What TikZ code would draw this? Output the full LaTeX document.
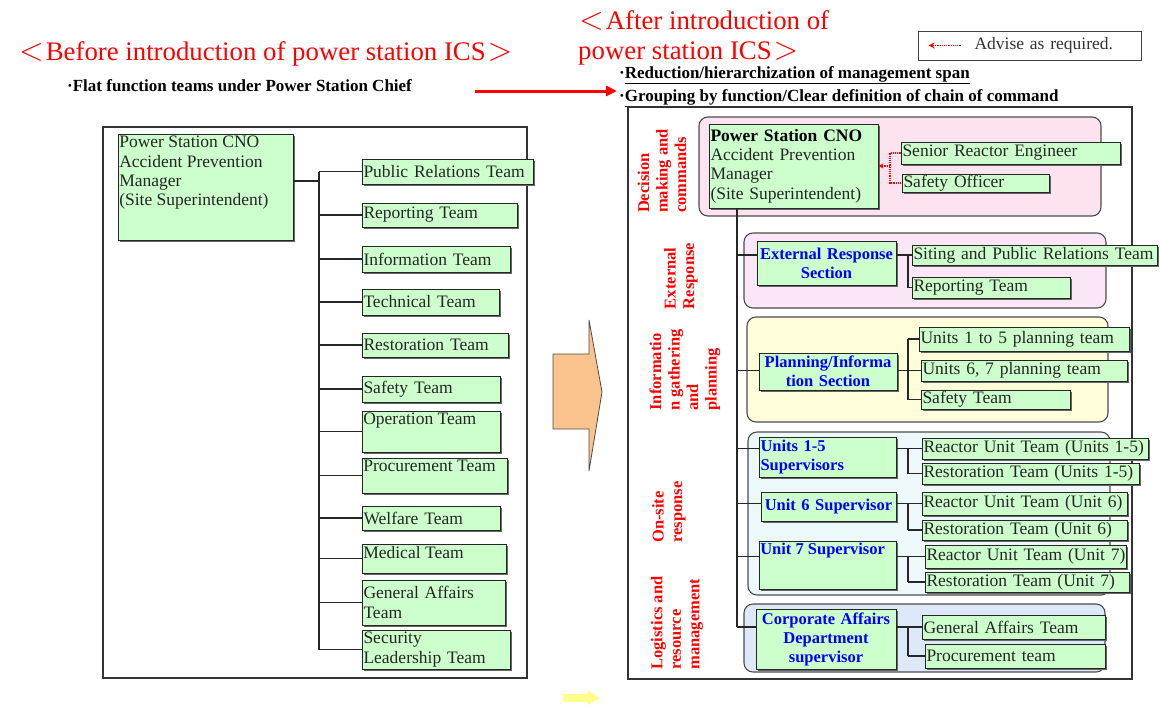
\documentclass[tikz,border=0pt]{standalone}
\usepackage{graphicx}
\usepackage{fontspec}
\setmainfont{Liberation Serif}
\usetikzlibrary{shadows,calc,arrows.meta}

\definecolor{boxgreen}{HTML}{CCFFCC}
\definecolor{ICSblue}{HTML}{0000FF}
\definecolor{grpDecision}{HTML}{FDE2EF}
\definecolor{grpExternal}{HTML}{FBE6F7}
\definecolor{grpPlanning}{HTML}{FFFDDA}
\definecolor{grpOnsite}{HTML}{EDF8FB}
\definecolor{grpLogistics}{HTML}{DDE9F8}
\definecolor{arrowOrange}{HTML}{FAC38E}
\definecolor{arrowYellow}{HTML}{FFFF8C}

\newcommand{\boxfont}{\fontsize{17.5}{19.3}\selectfont}
\newcommand{\sectfont}{\bfseries\fontsize{16.5}{19}\selectfont}
\newcommand{\sidefont}{\bfseries\fontsize{16.5}{18.5}\selectfont}
\newcommand{\titlefont}{\fontsize{26.8}{30}\selectfont}
\newcommand{\notefont}{\bfseries\fontsize{17}{20}\selectfont}
% wide angle brackets round the headings
\newcommand{\lbrk}{\kern1pt\scalebox{1.3}{\ensuremath{<}}\kern2pt}
\newcommand{\rbrk}{\kern2pt\scalebox{1.3}{\ensuremath{>}}}

% green box with text centred vertically: [opts]{name}{x1}{y1}{x2}{y2}{text}
\newcommand{\gbc}[7][]{%
  \pgfmathsetmacro{\bw}{#5-#3}\pgfmathsetmacro{\bh}{#6-#4}\pgfmathsetmacro{\tw}{#5-#3-3}%
  \node[gbox, minimum width=\bw pt, minimum height=\bh pt, text width=\tw pt,
        inner xsep=1.5pt, inner ysep=0pt, gtext, #1]
    (#2) at ({(#3+#5)/2},{(#4+#6)/2}) {#7};}
% green box with text at its top left corner
\newcommand{\gbt}[7][]{%
  \pgfmathsetmacro{\bw}{#5-#3}\pgfmathsetmacro{\bh}{#6-#4}%
  \node[gbox, minimum width=\bw pt, minimum height=\bh pt, inner sep=0pt,
        label={[gtext, anchor=north west, inner xsep=1.5pt, inner ysep=2.5pt, #1]north west:{#7}}]
    (#2) at ({(#3+#5)/2},{(#4+#6)/2}) {};}

\begin{document}
\begin{tikzpicture}[x=1pt,y=-1pt,
  gbox/.style={rectangle, draw=black!85, line width=0.8pt, fill=boxgreen,
    drop shadow={shadow xshift=1.6pt, shadow yshift=-1.6pt, fill=black!60, opacity=1}},
  gtext/.style={font=\boxfont, text=black!85, align=left},
  sect/.style={font=\sectfont, text=ICSblue},
  grp/.style={draw=black!70, line width=1.1pt, rounded corners=9pt},
  panel/.style={draw=black!80, line width=1.3pt},
  conn/.style={draw=black!85, line width=1.3pt},
  advise/.style={draw=red, densely dotted, line width=1.2pt},
  side/.style={rotate=90, align=left, font=\sidefont, text=red, inner sep=0pt},
  heading/.style={font=\titlefont, text=red, inner sep=0pt},
  note/.style={font=\notefont, text=black, inner sep=0pt, anchor=base west}]

\fill[white] (0,0) rectangle (1160,705);
\useasboundingbox (0,0) rectangle (1160,705);

% ---------- headings ----------
\node[heading, anchor=base west] (tBefore) at (18,60) {\lbrk Before introduction of power station ICS\rbrk};
\node[note] (n1) at (67,91) {·Flat function teams under Power Station Chief};
\node[heading, anchor=north west, align=left] (tAfter) at (578,10)
  {\lbrk After introduction of\\power station ICS\rbrk};
\node[note] (n2) at (619,78) {·\underline{Reduction/hierarchization of management span}};
\node[note] (n3) at (619,101) {·\underline{Grouping by function/Clear definition of chain of command}};

\coordinate (ra1) at (475,91);
\coordinate (ra2) at (617,91);
\draw[red, line width=3pt, -{Triangle[length=11pt,width=10pt]}] (ra1) -- (ra2);

% legend
\node[draw=black!75, line width=0.9pt, minimum width=223pt, minimum height=29pt,
      text width=167pt, inner xsep=28pt, align=right, font=\boxfont, text=black!80]
  (legend) at (1029.5,45.5) {Advise as required.};
\draw[advise, -{Stealth[length=6pt,width=6pt]}] ($(legend.west)+(43,0)$) -- ($(legend.west)+(11,0)$);

% ---------- panels ----------
\draw[panel] (103,127) rectangle (527,678);
\draw[panel] (628,107) rectangle (1132,679);

% transition arrows
\draw[draw=black!70, line width=0.8pt, fill=arrowOrange]
  (553,354) -- (589,354) -- (589,320) -- (602,392) -- (589,471) -- (589,429) -- (553,429) -- cycle;
\fill[arrowYellow] (563,694) -- (588,694) -- (588,690) -- (600,698) -- (588,705) -- (588,702) -- (563,702) -- cycle;

% ---------- flat organisation ----------
\gbt{chief}{118}{134}{293}{240}{Power Station CNO\\Accident Prevention\\Manager\\(Site Superintendent)}
\gbc{L1}{362}{159}{533}{184}{Public~Relations~Team}
\gbc{L2}{362}{203}{517}{227}{Reporting Team}
\gbc{L3}{362}{246}{510}{272}{Information Team}
\gbc{L4}{362}{289}{499}{315}{Technical Team}
\gbc{L5}{362}{333}{508}{357}{Restoration Team}
\gbc{L6}{362}{376}{500}{402}{Safety Team}
\gbt{L7}{362}{411}{500}{452}{Operation Team}
\gbt{L8}{362}{458}{507}{493}{Procurement Team}
\gbc{L9}{362}{506}{500}{530}{Welfare Team}
\gbt{L10}{362}{544}{506}{573}{Medical Team}
\gbc{L11}{362}{580}{505}{625}{General Affairs\\Team}
\gbc{L12}{362}{630}{510}{669}{Security\\Leadership Team}

\coordinate (lt) at (319,181);
\draw[conn] (chief.east |- lt) -- (lt);
\draw[conn] (lt |- L1.west) -- (lt |- L12.west);
\foreach \i in {1,...,12} \draw[conn] (lt |- L\i.west) -- (L\i.west);

% ---------- ICS organisation ----------
\draw[grp, fill=grpDecision]  (699,117) rectangle (1101,216);
\draw[grp, fill=grpExternal]  (744,233) rectangle (1106,308);
\draw[grp, fill=grpPlanning]  (747,317) rectangle (1108,422);
\draw[grp, fill=grpOnsite]    (748,432) rectangle (1110,595);
\draw[grp, fill=grpLogistics] (744,604) rectangle (1105,672);

\node[side] (sDec) at (662,171) {Decision\\making and\\commands};
\node[side] (sExt) at (681,276) {External\\Response};
\node[side] (sInf) at (685,370) {Informatio\\n gathering\\and\\planning};
\node[side] (sOn)  at (669,512) {On-site\\response};
\node[side] (sLog) at (677,623) {Logistics and\\resource\\management};

\gbc{CNO}{709}{124}{878}{208}{{\bfseries\color{black}Power Station CNO}\\Accident Prevention\\Manager\\(Site Superintendent)}
\gbc{SRE}{901}{142}{1120}{164}{Senior~Reactor~Engineer}
\gbc{SO}{902}{174}{1049}{192}{Safety Officer}

\gbc[sect,align=center]{ER}{757}{241}{896}{285}{External~Response\\Section}
\gbc{SIT}{912}{245}{1157}{265}{Siting~and~Public~Relations~Team}
\gbc{REP}{912}{277}{1070}{298}{Reporting Team}

\gbc[sect,align=center]{PI}{759}{353}{897}{390}{Planning/Informa\\tion~Section}
\gbc{U15P}{919}{327}{1129}{351}{Units~1~to~5~planning~team}
\gbc{U67P}{921}{360}{1127}{381}{Units~6,~7~planning~team}
\gbc{SAF}{921}{390}{1070}{409}{Safety Team}

\gbc[sect]{U15S}{759}{437}{896}{477}{Units~1-5\\Supervisors}
\gbc{RUT15}{922}{438}{1148}{459}{Reactor~Unit~Team~(Units~1-5)}
\gbc{RT15}{922}{463}{1139}{484}{Restoration~Team~(Units~1-5)}
\gbc[sect,align=center]{U6S}{761}{492}{896}{521}{Unit~6~Supervisor}
\gbc{RUT6}{922}{492}{1127}{515}{Reactor~Unit~Team~(Unit~6)}
\gbc{RT6}{922}{520}{1127}{540}{Restoration~Team~(Unit~6)}
\gbt[sect]{U7S}{759}{541}{896}{589}{Unit~7~Supervisor}
\gbc{RUT7}{925}{545}{1126}{568}{Reactor~Unit~Team~(Unit~7)}
\gbc{RT7}{925}{572}{1129}{592}{Restoration~Team~(Unit~7)}

\gbc[sect,align=center]{CORP}{756}{609}{896}{669}{Corporate~Affairs\\Department\\supervisor}
\gbc{GAT}{922}{615}{1105}{639}{General~Affairs~Team}
\gbc{PRC}{925}{644}{1105}{668}{Procurement~team}

% chain of command
\coordinate (rt) at (737,0);
\coordinate (bx) at (908,0);
\coordinate (ax) at (890,0);
\draw[conn] (rt |- CNO.south) -- (rt |- GAT.west);
\foreach \s/\c in {ER/SIT, PI/U67P, U15S/RUT15, U6S/RUT6, U7S/RUT7, CORP/GAT}{
  \draw[conn] (rt |- \c.west) -- (\s.west |- \c.west);
  \draw[conn] (\s.east |- \c.west) -- (\c.west);
}
\foreach \a/\b in {SIT/REP, U15P/SAF, RUT15/RT15, RUT6/RT6, RUT7/RT7, GAT/PRC}
  \draw[conn] (bx |- \a.west) -- (bx |- \b.west);
\foreach \c in {REP, U15P, SAF, RT15, RT6, RT7, PRC}
  \draw[conn] (bx |- \c.west) -- (\c.west);

% advisory links
\draw[advise] (SRE.west) -- (ax |- SRE.west) -- (ax |- SO.west) -- (SO.west);
\draw[advise, -{Stealth[length=5pt,width=5pt]}] (ax |- CNO.east) -- (CNO.east);

\end{tikzpicture}
\end{document}
